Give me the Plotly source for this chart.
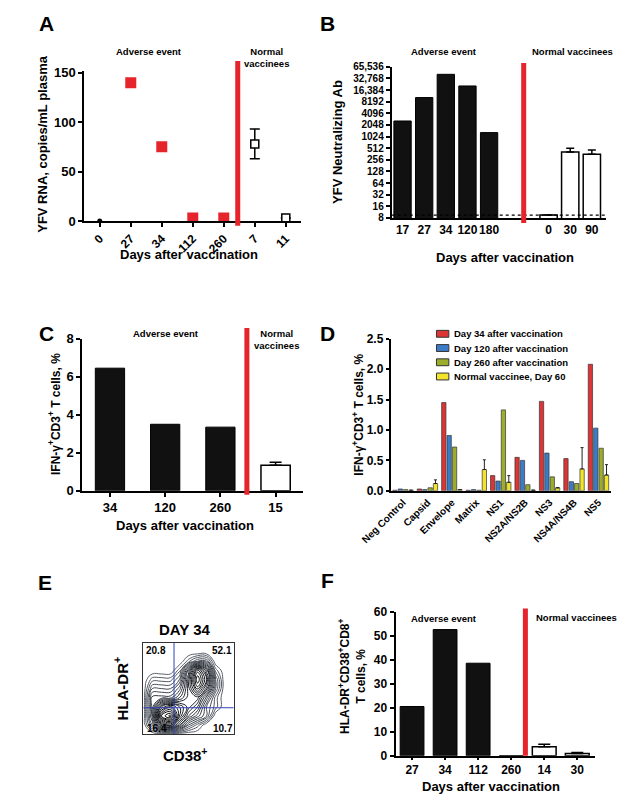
import plotly.graph_objects as go

W, H = 624, 806
FONT = "Liberation Sans, Arial, sans-serif"
RED = "#e5242b"

# ---------------- Panel A data ----------------
a_days = ["0", "27", "34", "112", "260", "7", "11"]
a_ae_days = ["0", "27", "34", "112", "260"]
a_ae_rna = [0, 140, 75, 3, 3]
a_nv_days = ["7", "11"]
a_nv_rna = [78, 3]
a_nv_err = [15, 0]

# ---------------- Panel B data ----------------
b_labels = ["17", "27", "34", "120", "180", "0", "30", "90"]
b_pos = [0, 1, 2, 3, 4, 6.75, 7.75, 8.75]
b_ae = [2600, 10500, 42000, 21000, 1300]
b_nv = [9.5, 410, 360]
b_nv_err = [0, 100, 100]
b_ticks = [8, 16, 32, 64, 128, 256, 512, 1024, 2048, 4096, 8192, 16384, 32768, 65536]
b_ticktext = ["8", "16", "32", "64", "128", "256", "512", "1024", "2048", "4096",
              "8192", "16,384", "32,768", "65,536"]
b_limit = 9.5

# ---------------- Panel C data ----------------
c_days = ["34", "120", "260", "15"]
c_ae = [6.45, 3.5, 3.35]
c_nv = [1.35]
c_nv_err = [0.15]

# ---------------- Panel D data ----------------
d_cats = ["Neg Control", "Capsid", "Envelope", "Matrix", "NS1", "NS2A/NS2B",
          "NS3", "NS4A/NS4B", "NS5"]
d_series = ["Day 34 after vaccination", "Day 120 after vaccination",
            "Day 260 after vaccination", "Normal vaccinee, Day 60"]
d_day34 = [0.01, 0.03, 1.45, 0.01, 0.25, 0.55, 1.47, 0.53, 2.08]
d_day120 = [0.03, 0.02, 0.91, 0.02, 0.16, 0.50, 0.62, 0.15, 1.03]
d_day260 = [0.02, 0.05, 0.72, 0.01, 1.33, 0.10, 0.23, 0.12, 0.70]
d_normal = [0.01, 0.12, 0.02, 0.35, 0.14, 0.01, 0.05, 0.36, 0.26]
d_normal_err = [0.0, 0.06, 0.0, 0.16, 0.11, 0.0, 0.0, 0.35, 0.17]
d_colors = ["#dd3535", "#3b7cc8", "#9cad2c", "#f2e42a"]

# ---------------- Panel E data ----------------
e_x = [0.0, 0.1, 0.2, 0.3, 0.4, 0.5, 0.6, 0.7, 0.8, 0.9, 1.0]
e_y = [0.0, 0.1, 0.2, 0.3, 0.4, 0.5, 0.6, 0.7, 0.8, 0.9, 1.0]
e_density = [
    [0, 0, 0, 0, 0, 0, 0, 0, 0, 0, 0],
    [0, 2, 5, 6, 4, 2, 1, 0, 0, 0, 0],
    [0, 3, 8, 9, 6, 4, 3, 2, 0, 0, 0],
    [0, 3, 6, 7, 6, 5, 4, 2, 1, 0, 0],
    [0, 3, 3, 3, 4, 5, 5, 3, 1, 0, 0],
    [0, 2, 2, 2, 3, 5, 7, 5, 2, 0, 0],
    [0, 1, 1, 1, 2, 5, 8, 6, 2, 0, 0],
    [0, 0, 0, 0, 1, 4, 7, 5, 1, 0, 0],
    [0, 0, 0, 0, 0, 1, 2, 2, 0, 0, 0],
    [0, 0, 0, 0, 0, 0, 0, 0, 0, 0, 0],
    [0, 0, 0, 0, 0, 0, 0, 0, 0, 0, 0],
]
e_quadrants = ["20.8", "52.1", "16.4", "10.7"]
e_gate_x = 0.34
e_gate_y = 0.29

# ---------------- Panel F data ----------------
f_days = ["27", "34", "112", "260", "14", "30"]
f_ae_days = ["27", "34", "112", "260"]
f_ae = [20.5, 52.5, 38.5, 0]
f_nv_days = ["14", "30"]
f_nv = [3.8, 1.0]
f_nv_err = [1.0, 0.4]


def px(x):
    return x / W


def py(y):
    return 1 - y / H


fig = go.Figure()

# A
fig.add_trace(go.Scatter(x=a_ae_days[:1], y=a_ae_rna[:1], mode="markers",
                         marker=dict(color="black", size=5), xaxis="x", yaxis="y"))
fig.add_trace(go.Scatter(x=a_ae_days[1:], y=a_ae_rna[1:], mode="markers",
                         marker=dict(color=RED, size=11, symbol="square"),
                         xaxis="x", yaxis="y"))
fig.add_trace(go.Scatter(x=a_nv_days, y=a_nv_rna, mode="markers",
                         marker=dict(color="white", size=8, symbol="square",
                                     line=dict(color="black", width=1.5)),
                         error_y=dict(type="data", array=a_nv_err, color="black",
                                      thickness=1.5, width=5),
                         xaxis="x", yaxis="y"))

# B
fig.add_trace(go.Bar(x=b_pos[:5], y=b_ae, marker=dict(color="#111111",
                     line=dict(color="black", width=1)), width=0.8,
                     offsetgroup="b", xaxis="x2", yaxis="y2"))
fig.add_trace(go.Bar(x=b_pos[5:], y=b_nv, marker=dict(color="white",
                     line=dict(color="black", width=1.5)), width=0.8,
                     offsetgroup="b",
                     error_y=dict(type="data", array=b_nv_err, arrayminus=[0, 0, 0],
                                  symmetric=False, color="black", thickness=1.5, width=4),
                     xaxis="x2", yaxis="y2"))
fig.add_trace(go.Scatter(x=[-0.5, 9.4], y=[b_limit, b_limit], mode="lines",
                         line=dict(color="black", width=1.2, dash="3px,3px"),
                         xaxis="x2", yaxis="y2"))

# C
fig.add_trace(go.Bar(x=c_days[:3], y=c_ae, marker=dict(color="#111111",
                     line=dict(color="black", width=1)), width=0.53,
                     offsetgroup="c", xaxis="x3", yaxis="y3"))
fig.add_trace(go.Bar(x=c_days[3:], y=c_nv, marker=dict(color="white",
                     line=dict(color="black", width=1.5)), width=0.53,
                     offsetgroup="c",
                     error_y=dict(type="data", array=c_nv_err, arrayminus=[0],
                                  symmetric=False, color="black", thickness=1.5, width=6),
                     xaxis="x3", yaxis="y3"))

# D
for name, vals, col, err in zip(d_series, [d_day34, d_day120, d_day260, d_normal],
                                d_colors, [None, None, None, d_normal_err]):
    kw = {}
    if err is not None:
        kw["error_y"] = dict(type="data", array=err, arrayminus=[0] * len(err),
                             symmetric=False, color="#222", thickness=1, width=1.5)
    fig.add_trace(go.Bar(x=d_cats, y=vals, name=name,
                         marker=dict(color=col, line=dict(color="#333", width=0.7)),
                         xaxis="x4", yaxis="y4", **kw))

# E
fig.add_trace(go.Contour(x=e_x, y=e_y, z=e_density, xaxis="x5", yaxis="y5",
                         contours=dict(coloring="lines", start=0.4, end=9, size=0.4),
                         line=dict(width=1, smoothing=1.3),
                         colorscale=[[0, "#5a606a"], [0.5, "#1f242c"], [1, "#000000"]],
                         showscale=False))
fig.add_trace(go.Scatter(x=[e_gate_x, e_gate_x], y=[0, 1], mode="lines",
                         line=dict(color="#3344bb", width=1), xaxis="x5", yaxis="y5"))
fig.add_trace(go.Scatter(x=[0, 1], y=[e_gate_y, e_gate_y], mode="lines",
                         line=dict(color="#3344bb", width=1), xaxis="x5", yaxis="y5"))

# F
fig.add_trace(go.Bar(x=f_ae_days, y=f_ae, marker=dict(color="#111111",
                     line=dict(color="black", width=1)), width=0.72,
                     offsetgroup="f", xaxis="x6", yaxis="y6"))
fig.add_trace(go.Bar(x=f_nv_days, y=f_nv, marker=dict(color="white",
                     line=dict(color="black", width=1.5)), width=0.72,
                     offsetgroup="f",
                     error_y=dict(type="data", array=f_nv_err, arrayminus=[0, 0],
                                  symmetric=False, color="black", thickness=1.5, width=6),
                     xaxis="x6", yaxis="y6"))

axis_common = dict(showline=True, linecolor="black", linewidth=2, ticks="outside",
                   ticklen=4, tickwidth=1.5, tickcolor="black", showgrid=False,
                   zeroline=False, fixedrange=True)

bold = dict(family=FONT, color="black", weight="bold")

layout = dict(
    width=W, height=H, margin=dict(l=0, r=0, t=0, b=0),
    paper_bgcolor="white", plot_bgcolor="rgba(0,0,0,0)",
    showlegend=False, barmode="group", bargap=0.12, bargroupgap=0.2,
    font=bold,
    # A
    xaxis=dict(axis_common, domain=[px(57), px(285)], anchor="y", type="category",
               categoryorder="array", categoryarray=a_days, range=[-0.5, 6.5],
               tickangle=-45, tickfont=dict(bold, size=12)),
    yaxis=dict(axis_common, domain=[py(218), py(65)], anchor="x", range=[0, 152],
               tickvals=[0, 50, 100, 150], tickfont=dict(bold, size=13)),
    # B
    xaxis2=dict(axis_common, domain=[px(380), px(605)], anchor="y2", range=[-0.5, 9.4],
                tickvals=b_pos, ticktext=b_labels, ticklen=0, tickangle=0,
                tickfont=dict(bold, size=12)),
    yaxis2=dict(axis_common, domain=[py(215), py(61)], anchor="x2", type="log",
                range=[0.90309, 4.81648], tickvals=b_ticks, ticktext=b_ticktext,
                tickfont=dict(bold, size=10)),
    # C
    xaxis3=dict(axis_common, domain=[px(55), px(287)], anchor="y3", type="category",
                categoryorder="array", categoryarray=c_days, range=[-0.5, 3.5],
                tickangle=0, tickfont=dict(bold, size=13)),
    yaxis3=dict(axis_common, domain=[py(493), py(338)], anchor="x3", range=[0, 8],
                tickvals=[0, 2, 4, 6, 8], tickfont=dict(bold, size=13)),
    # D
    xaxis4=dict(axis_common, domain=[px(379), px(610)], anchor="y4", type="category",
                categoryorder="array", categoryarray=d_cats, range=[-0.5, 8.5],
                ticks="", tickangle=-45, tickfont=dict(bold, size=10)),
    yaxis4=dict(axis_common, domain=[py(493), py(338)], anchor="x4", range=[0, 2.5],
                tickvals=[0, 0.5, 1.0, 1.5, 2.0, 2.5], tickformat=".1f", ticklen=3,
                tickfont=dict(bold, size=12)),
    # E
    xaxis5=dict(domain=[px(119), px(214)], anchor="y5", range=[0, 1], showline=True,
                mirror=True, linecolor="#333", linewidth=1, showgrid=False,
                zeroline=False, showticklabels=False, ticks=""),
    yaxis5=dict(domain=[py(741), py(648)], anchor="x5", range=[0, 1], showline=True,
                mirror=True, linecolor="#333", linewidth=1, showgrid=False,
                zeroline=False, showticklabels=False, ticks=""),
    # F
    xaxis6=dict(axis_common, domain=[px(384), px(594)], anchor="y6", type="category",
                categoryorder="array", categoryarray=f_days, range=[-0.5, 5.55],
                ticklen=2, tickangle=0, tickfont=dict(bold, size=12)),
    yaxis6=dict(axis_common, domain=[py(763), py(616)], anchor="x6", range=[0, 60],
                tickvals=[0, 10, 20, 30, 40, 50, 60], tickfont=dict(bold, size=12)),
)

shapes = []
# red separators
for xref, xpos, y0, y1 in [("x", 4.45, 223, 55), ("x2", 5.6, 220, 57),
                           ("x3", 2.48, 497, 327), ("x6", 3.43, 763, 613)]:
    shapes.append(dict(type="line", xref=xref, yref="paper", x0=xpos, x1=xpos,
                       y0=py(y0), y1=py(y1), line=dict(color=RED, width=5)))

annotations = []


def ann(text, x, y, size, xanchor="center", yanchor="middle", angle=0):
    annotations.append(dict(text=text, x=px(x), y=py(y), xref="paper", yref="paper",
                            showarrow=False, xanchor=xanchor, yanchor=yanchor,
                            textangle=angle, font=dict(bold, size=size)))


# panel letters
for lab, x, y in [("A", 17, 17), ("B", 313, 17), ("C", 17, 333), ("D", 313, 333),
                  ("E", 16, 586), ("F", 313, 584)]:
    ann(lab, x, y, 21)

# A texts
ann("YFV RNA, copies/mL plasma", 13, 139, 13, angle=-90)
ann("Days after vaccination", 167, 252, 13)
ann("Adverse event", 125, 45, 9.5)
ann("Normal<br>vaccinees", 223, 51, 9.5, xanchor="left")
# B texts
ann("YFV Neutralizing Ab", 323, 137, 13, angle=-90)
ann("Days after vaccination", 499, 255, 13)
ann("Adverse event", 435, 45, 9.5)
ann("Normal vaccinees", 570, 45, 9.5)
# C texts
ann("IFN-γ<sup>+</sup>CD3<sup>+</sup> T cells, %", 26, 415, 12, angle=-90)
ann("Days after vaccination", 163, 528, 13)
ann("Adverse event", 143, 333, 9.5)
ann("Normal<br>vaccinees", 233, 339, 9.5, xanchor="left")
# D texts
ann("IFN-γ<sup>+</sup>CD3<sup>+</sup> T cells, %", 345, 415, 12, angle=-90)
leg_rows = [333, 347.5, 362, 376.5]
for name, col, yrow in zip(d_series, d_colors, leg_rows):
    shapes.append(dict(type="rect", xref="paper", yref="paper",
                       x0=px(427), x1=px(440), y0=py(yrow + 3.5), y1=py(yrow - 3.5),
                       fillcolor=col, line=dict(color="#333", width=1)))
    ann(name, 443, yrow, 9.5, xanchor="left")
# E texts
ann("DAY 34", 163, 634, 15)
ann("HLA-DR<sup>+</sup>", 95, 694, 15, angle=-90)
ann("CD38<sup>+</sup>", 163, 762, 15)
ann(e_quadrants[0], 132, 656, 10)
ann(e_quadrants[1], 202, 656, 10)
ann(e_quadrants[2], 133, 735, 10)
ann(e_quadrants[3], 203, 735, 10)
# F texts
ann("HLA-DR<sup>+</sup>CD38<sup>+</sup>CD8<sup>+</sup><br>T cells, %", 339, 682, 12,
    angle=-90)
ann("Days after vaccination", 484, 794, 13)
ann("Adverse event", 435, 623, 9.5)
ann("Normal vaccinees", 574, 622, 9.5)

layout["shapes"] = shapes
layout["annotations"] = annotations
fig.update_layout(**layout)

fig.write_html("out.html", config={"displayModeBar": False},
               post_script="document.body.style.margin='0';"
                           "document.body.style.overflow='hidden';")
